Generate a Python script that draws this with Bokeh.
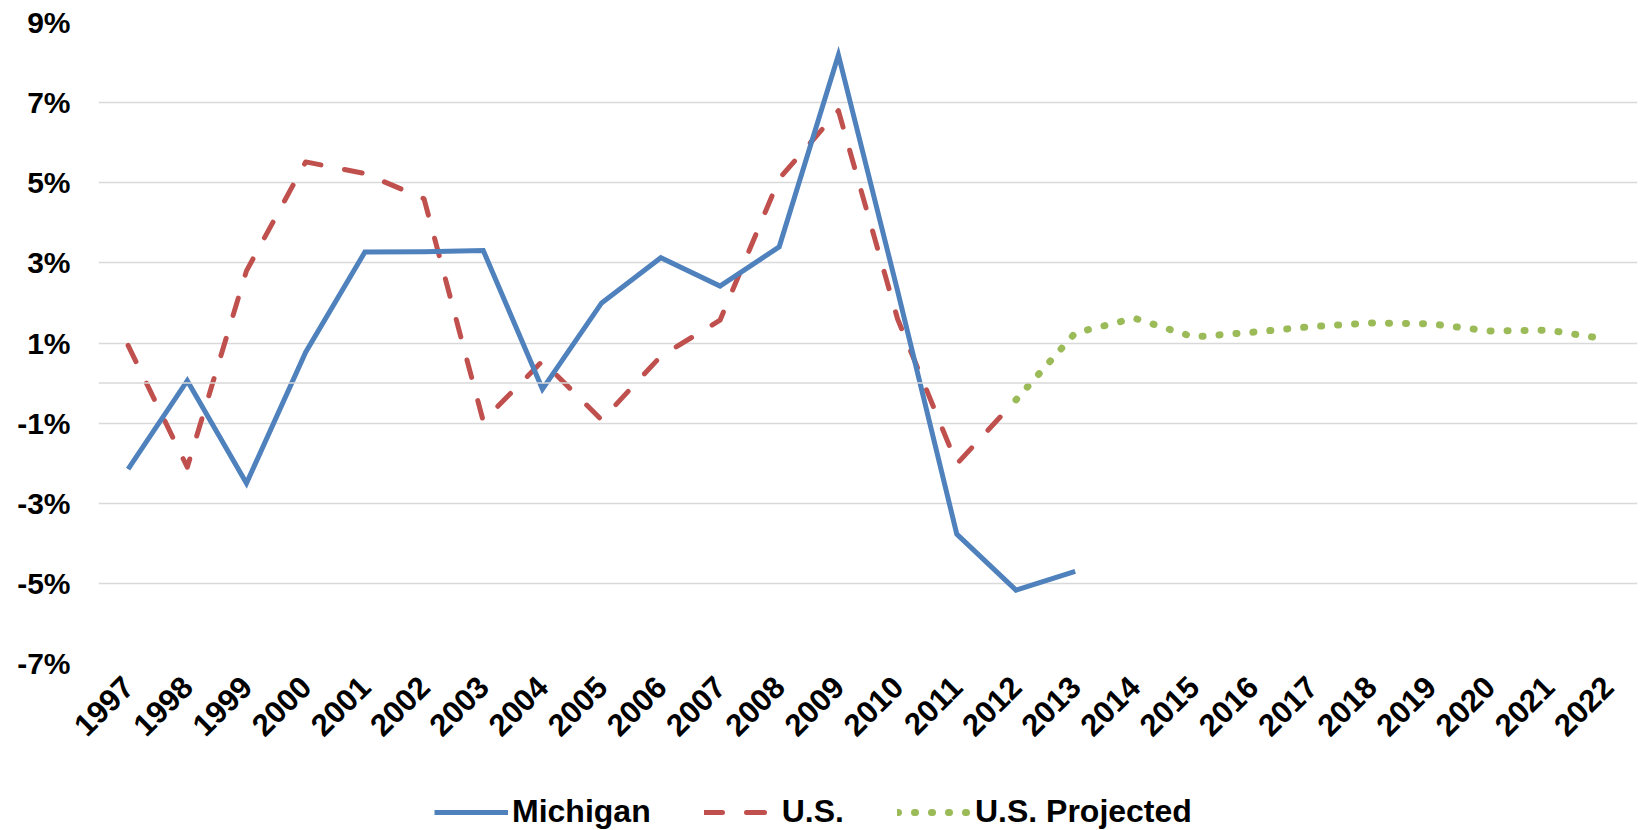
import math
from bokeh.plotting import figure
from bokeh.layouts import column
from bokeh.models import (FactorRange, Range1d, FixedTicker, PrintfTickFormatter,
                          Span, Legend, LegendItem)
from bokeh.embed import file_html
from bokeh.resources import INLINE

# ---- data ----
years = ["1997", "1998", "1999", "2000", "2001", "2002", "2003", "2004", "2005",
         "2006", "2007", "2008", "2009", "2010", "2011", "2012", "2013", "2014",
         "2015", "2016", "2017", "2018", "2019", "2020", "2021", "2022"]

michigan_years = years[:17]   # 1997-2013
michigan = [-2.15, 0.06, -2.5, 0.77, 3.27, 3.28, 3.31, -0.15, 2.0, 3.13, 2.42,
            3.4, 8.19, 2.3, -3.77, -5.17, -4.7]

us_years = years[:16]         # 1997-2012
us = [0.94, -2.1, 2.8, 5.52, 5.23, 4.6, -0.95, 0.55, -0.92, 0.67, 1.57, 5.1,
      6.8, 1.6, -2.02, -0.42]

proj_years = years[15:]       # 2012-2022
us_projected = [-0.42, 1.25, 1.62, 1.15, 1.27, 1.41, 1.50, 1.48, 1.30, 1.32, 1.09]

y_ticks = [-7, -5, -3, -1, 1, 3, 5, 7, 9]

# ---- styles ----
FONT = "Liberation Sans"
BLUE = "#4F81BD"
RED = "#C0504D"
GREEN = "#9BBB59"
GRID = "#D9D9D9"

MI_STYLE = dict(line_color=BLUE, line_width=5, line_join="miter")
US_STYLE = dict(line_color=RED, line_width=5, line_dash="18 24",
                line_cap="round", line_join="round")
PR_STYLE = dict(line_color=GREEN, line_width=7, line_dash="1 16", line_cap="round")

# ---- main chart ----
p = figure(width=1644, height=780, output_backend="svg", toolbar_location=None,
           x_range=FactorRange(*years, range_padding=0),
           y_range=Range1d(-7, 9),
           min_border_left=98, min_border_right=7, min_border_top=22,
           min_border_bottom=117)
p.outline_line_color = None
p.background_fill_color = "white"
p.border_fill_color = "white"

p.xgrid.grid_line_color = None
p.ygrid.grid_line_color = GRID
p.ygrid.grid_line_width = 1.5
p.ygrid.ticker = FixedTicker(ticks=y_ticks)

# zero line (category axis line)
p.add_layout(Span(location=0, dimension="width", line_color=GRID, line_width=1.5))

p.yaxis.ticker = FixedTicker(ticks=y_ticks)
p.yaxis.formatter = PrintfTickFormatter(format="%d%%")
p.yaxis.axis_line_color = None
p.yaxis.major_tick_line_color = None
p.yaxis.minor_tick_line_color = None
p.yaxis.major_tick_out = 0
p.yaxis.major_label_standoff = 28
p.yaxis.major_label_text_font = FONT
p.yaxis.major_label_text_font_style = "bold"
p.yaxis.major_label_text_font_size = "30px"
p.yaxis.major_label_text_color = "black"

p.xaxis.axis_line_color = None
p.xaxis.major_tick_line_color = None
p.xaxis.minor_tick_line_color = None
p.xaxis.major_tick_out = 0
p.xaxis.major_label_orientation = math.pi / 4
p.xaxis.major_label_standoff = 18
p.xaxis.major_label_text_font = FONT
p.xaxis.major_label_text_font_style = "bold"
p.xaxis.major_label_text_font_size = "31px"
p.xaxis.major_label_text_color = "black"

p.line(proj_years, us_projected, **PR_STYLE)
p.line(us_years, us, **US_STYLE)
p.line(michigan_years, michigan, **MI_STYLE)

# ---- legend strip (same series, drawn outside the strip's visible range) ----
lg = figure(width=1644, height=50, output_backend="svg", toolbar_location=None,
            x_range=FactorRange(*years, range_padding=0),
            y_range=Range1d(100, 101),
            min_border_left=0, min_border_right=0, min_border_top=0,
            min_border_bottom=0)
lg.outline_line_color = None
lg.axis.visible = False
lg.grid.visible = False
l_mi = lg.line(michigan_years, michigan, **MI_STYLE)
l_us = lg.line(us_years, us, **US_STYLE)
l_pr = lg.line(proj_years, us_projected, **PR_STYLE)

legend = Legend(items=[LegendItem(label="Michigan", renderers=[l_mi]),
                       LegendItem(label="U.S.", renderers=[l_us]),
                       LegendItem(label="U.S. Projected", renderers=[l_pr])],
                orientation="horizontal", location=(336, 0),
                glyph_width=74, glyph_height=32, label_standoff=4, spacing=53,
                padding=0, margin=0, border_line_color=None,
                background_fill_alpha=0,
                label_text_font=FONT, label_text_font_style="bold",
                label_text_font_size="32px", label_text_color="black")
lg.add_layout(legend, "center")

layout = column(p, lg, spacing=0)
open("out.html", "w").write(file_html(layout, INLINE))
